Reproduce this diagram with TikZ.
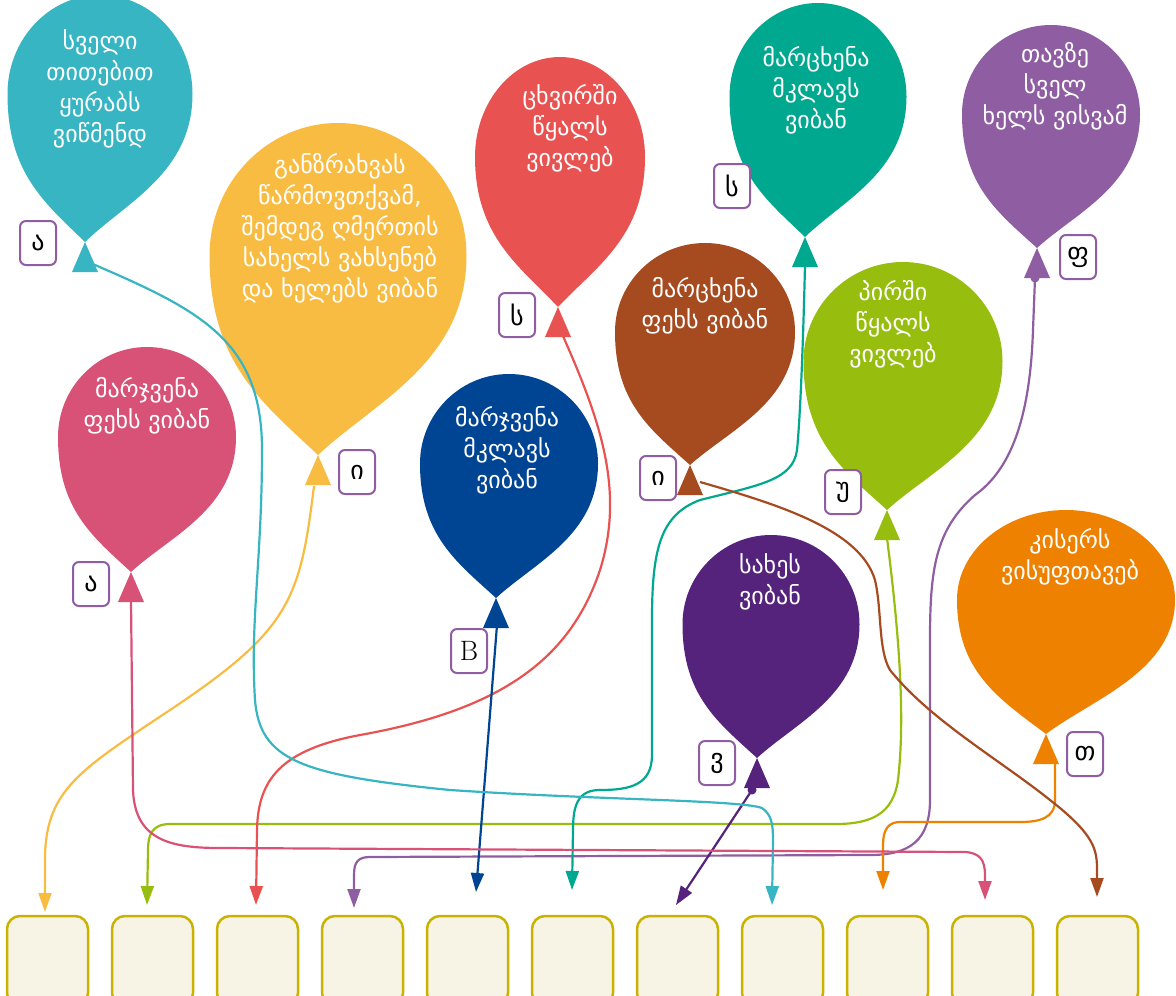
\documentclass[tikz,border=0pt]{standalone}
\usepackage{fontspec}
\newfontfamily\geo{DejaVu Sans}
\usetikzlibrary{arrows.meta}
\definecolor{cteal}{HTML}{37B5C2}
\definecolor{cyellow}{HTML}{F9BC42}
\definecolor{cred}{HTML}{E85352}
\definecolor{cgreenteal}{HTML}{00A88F}
\definecolor{cpurple}{HTML}{8F5EA2}
\definecolor{cbrown}{HTML}{A64B20}
\definecolor{cgreen}{HTML}{97BE0F}
\definecolor{cpink}{HTML}{D85277}
\definecolor{cblue}{HTML}{004494}
\definecolor{cdpurple}{HTML}{55227C}
\definecolor{corange}{HTML}{EF8100}
\definecolor{slotfill}{HTML}{F7F4E6}
\definecolor{slotline}{HTML}{C9B200}
\definecolor{lblline}{HTML}{8F5EA2}
\newcommand{\balloon}[6]{%
  \pgfmathsetmacro\bh{#5-#2}%
  \fill[#6] (#4,#5) .. controls ({#4+0.22*#3},{#5-0.16*\bh}) and ({#1+0.5*#3},{#2+0.72*\bh}) .. ({#1+0.5*#3},{#2+0.4*\bh})
    .. controls ({#1+0.5*#3},{#2+0.18*\bh}) and ({#1+0.276*#3},#2) .. (#1,#2)
    .. controls ({#1-0.276*#3},#2) and ({#1-0.5*#3},{#2+0.18*\bh}) .. ({#1-0.5*#3},{#2+0.4*\bh})
    .. controls ({#1-0.5*#3},{#2+0.72*\bh}) and ({#4-0.22*#3},{#5-0.16*\bh}) .. (#4,#5) -- cycle;
  \fill[#6] (#4,#5) -- ({#4-13},{#5+30}) -- ({#4+13},{#5+30}) -- cycle;
}
\tikzset{
  btext/.style={text=white, font=\geo\fontsize{24}{31}\selectfont, align=center, inner sep=0pt},
  lbl/.style={draw=lblline, line width=2pt, rounded corners=6pt, fill=white, minimum width=36pt, minimum height=44pt, inner sep=0pt, font=\geo\fontsize{26}{26}\selectfont},
  slot/.style={draw=slotline, fill=slotfill, line width=2.5pt, rounded corners=13pt, minimum width=81pt, minimum height=90pt, inner sep=0pt},
  conn/.style={line width=2.2pt, -{Triangle[length=19pt,width=13pt]}},
}
\begin{document}
\begin{tikzpicture}[x=1pt,y=-1pt]
\useasboundingbox (0,0) rectangle (1176,996);
\begin{scope}
\clip (0,0) rectangle (1176,996);
% balloons
\balloon{100}{-5}{185}{85}{242}{cteal}
\balloon{338}{123}{257}{318}{455}{cyellow}
\balloon{560}{57}{170}{558}{307}{cred}
\balloon{818}{3}{177}{805}{237}{cgreenteal}
\balloon{1051}{25}{178}{1037}{248}{cpurple}
\balloon{705}{243}{180}{690}{465}{cbrown}
\balloon{903}{262}{199}{887}{510}{cgreen}
\balloon{147}{347}{178}{131}{572}{cpink}
\balloon{509}{374}{178}{496}{598}{cblue}
\balloon{771}{535}{177}{757}{758}{cdpurple}
\balloon{1066}{510}{218}{1046}{734}{corange}
% balloon texts
\node[btext] (t1) at (100,89) {სველი\\თითებით\\ყურაბს\\ვიწმენდ};
\node[btext] (t2) at (340,228) {განზრახვას\\წარმოვთქვამ,\\შემდეგ ღმერთის\\სახელს ვახსენებ\\და ხელებს ვიბან};
\node[btext] (t3) at (570,128) {ცხვირში\\წყალს\\ვივლებ};
\node[btext] (t4) at (816,90) {მარცხენა\\მკლავს\\ვიბან};
\node[btext] (t5) at (1055,86) {თავზე\\სველ\\ხელს ვისვამ};
\node[btext] (t6) at (705,306) {მარცხენა\\ფეხს ვიბან};
\node[btext] (t7) at (893,324) {პირში\\წყალს\\ვივლებ};
\node[btext] (t8) at (147,406) {მარჯვენა\\ფეხს ვიბან};
\node[btext] (t9) at (507,450) {მარჯვენა\\მკლავს\\ვიბან};
\node[btext] (t10) at (770,582) {სახეს\\ვიბან};
\node[btext] (t11) at (1070,557) {კისერს\\ვისუფთავებ};
% knots
\coordinate (k1) at (88,262);
\coordinate (k2) at (314,486);
\coordinate (k3) at (563,336);
\coordinate (k4) at (805,265);
\coordinate (k5) at (1035,278);
\coordinate (k6) at (700,482);
\coordinate (k7) at (887,538);
\coordinate (k8) at (131,600);
\coordinate (k9) at (497,625);
\coordinate (k10) at (752,790);
\coordinate (k11) at (1055,762);
% slots
\foreach \i in {1,...,11} {
  \node[slot] (b\i) at ({47.5+(\i-1)*105},961) {};
}
% arrow ends
\coordinate (e1) at (45,912);
\coordinate (e2) at (147,905);
\coordinate (e3) at (256,905);
\coordinate (e4) at (354,908);
\coordinate (e5) at (476,892);
\coordinate (e6) at (572,890);
\coordinate (e7) at (676,905);
\coordinate (e8) at (772,905);
\coordinate (e9) at (883,890);
\coordinate (e10) at (985,900);
\coordinate (e11) at (1097,897);
% connectors
\draw[conn, cyellow] (k2) .. controls (300,600) and (290,630) .. (170,710) .. controls (80,770) and (45,790) .. (45,860) -- (e1);
\draw[conn, cgreen] (k7) .. controls (900,640) and (905,720) .. (898,780) .. controls (893,815) and (870,823) .. (840,824) -- (170,824) .. controls (152,824) and (148,835) .. (148,850) -- (e2);
\draw[conn, cred] (k3) .. controls (600,420) and (625,490) .. (600,570) .. controls (570,660) and (500,710) .. (360,735) .. controls (280,750) and (258,780) .. (257,830) -- (e3);
\draw[conn, cpurple] (k5) -- (1033,330) .. controls (1030,420) and (1010,470) .. (975,495) .. controls (935,530) and (930,570) .. (930,640) -- (930,800) .. controls (930,840) and (910,855) .. (870,855) -- (370,857) .. controls (358,857) and (354,862) .. (354,875) -- (e4);
\fill[cpurple] (k5) circle (4.5pt);
\draw[conn, cblue] (k9) -- (e5);
\draw[conn, cgreenteal] (k4) .. controls (803,350) and (800,420) .. (797,450) .. controls (793,480) and (760,485) .. (700,500) .. controls (660,515) and (652,550) .. (652,620) -- (652,755) .. controls (652,785) and (630,790) .. (600,790) .. controls (578,790) and (573,805) .. (573,830) -- (e6);
\draw[conn, cdpurple] (k10) -- (e7);
\fill[cdpurple] (k10) circle (4.5pt);
\draw[conn, cteal] (k1) .. controls (200,310) and (262,340) .. (262,450) .. controls (262,560) and (250,620) .. (255,700) .. controls (260,760) and (300,775) .. (450,790) .. controls (600,800) and (740,800) .. (762,808) .. controls (772,815) and (773,825) .. (773,840) -- (e8);
\draw[conn, corange] (k11) -- (1055,800) .. controls (1055,818) and (1040,822) .. (1020,822) -- (900,822) .. controls (888,822) and (883,830) .. (883,845) -- (e9);
\draw[conn, cpink] (k8) -- (133,790) .. controls (135,840) and (170,848) .. (220,848) -- (965,852) .. controls (980,853) and (985,860) .. (985,875) -- (e10);
\draw[conn, cbrown] (k6) .. controls (780,505) and (860,530) .. (875,580) .. controls (882,610) and (878,650) .. (890,670) .. controls (930,720) and (1000,760) .. (1050,800) .. controls (1095,835) and (1097,850) .. (1097,870) -- (e11);
% labels
\node[lbl] (l1) at (38,243) {ა};
\node[lbl] (l2) at (357,472) {ი};
\node[lbl] (l3) at (517,315) {ს};
\node[lbl] (l4) at (732,186) {ს};
\node[lbl] (l5) at (1078,257) {ფ};
\node[lbl] (l6) at (658,478) {ი};
\node[lbl] (l7) at (843,492) {უ};
\node[lbl] (l8) at (91,584) {ა};
\node[lbl, font=\fontsize{28}{28}\selectfont] (l9) at (469,651) {B};
\node[lbl] (l10) at (717,763) {ვ};
\node[lbl] (l11) at (1085,754) {თ};
\end{scope}
\end{tikzpicture}
\end{document}
